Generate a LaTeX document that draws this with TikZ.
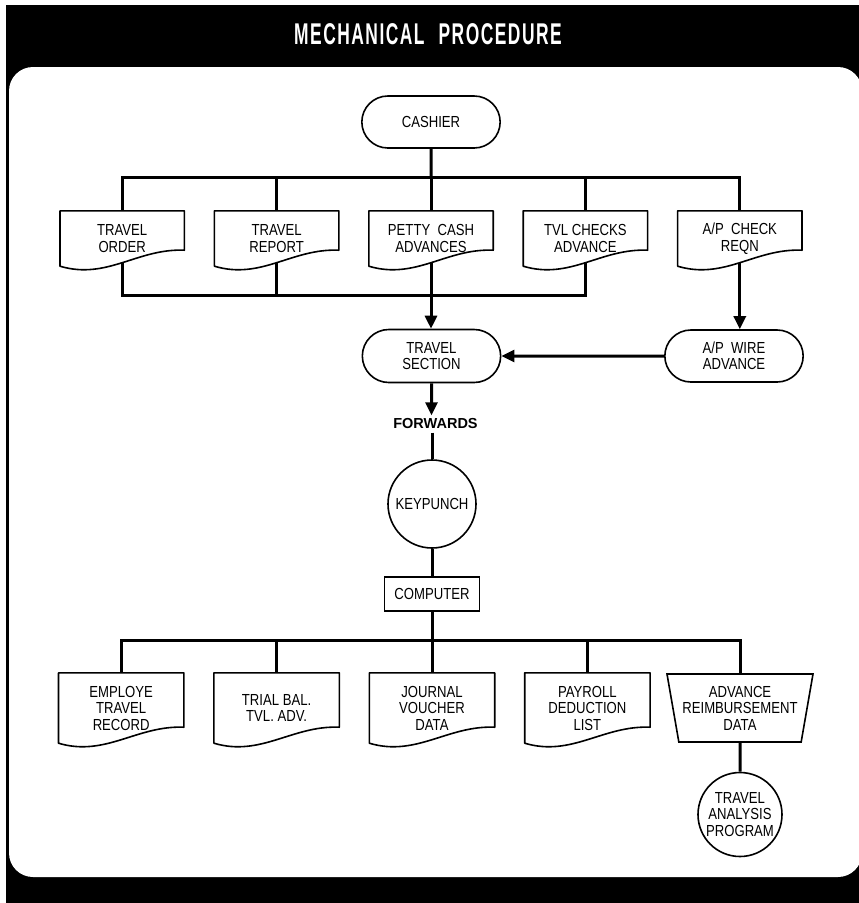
\documentclass[tikz,border=0pt]{standalone}
\usepackage{fontspec}
\setmainfont[FakeStretch=0.82]{Liberation Sans}
\newfontfamily\headfont[FakeStretch=0.58,LetterSpace=5]{Liberation Sans}
\newfontfamily\notefont{Liberation Sans}
\usetikzlibrary{positioning,shapes.geometric,shapes.misc,arrows.meta,calc}

\newcommand{\chartsize}{\fontsize{16}{16.5}\selectfont}
\newcommand{\docoutline}[1]{%
  \draw[docline] (#1.south west) -- (#1.north west) -- (#1.north east)
    -- ($(#1.south east)+(0,-16)$)
    .. controls ($(#1.south east)+(-47,-18)$) and ($(#1.south west)+(47,14)$) .. (#1.south west)
    coordinate[pos=0.5] (#1-b);}

\begin{document}
\begin{tikzpicture}[x=1pt,y=-1pt]
  \tikzset{wire/.style = {line width=3pt}}
  \tikzset{arrow/.style = {wire, -{Triangle[length=13pt,width=12pt]}}}
  \tikzset{docline/.style = {line width=1.6pt, line join=round, line cap=round}}
  \tikzset{terminal/.style = {rounded rectangle, draw, line width=1.6pt, minimum width=145pt,
      minimum height=52pt, align=center, font=\chartsize}}
  \tikzset{docnode/.style = {minimum width=124pt, minimum height=55pt, inner sep=0pt,
      align=center, font=\chartsize}}
  \tikzset{process/.style = {circle, draw, line width=1.6pt, minimum size=88pt, inner sep=0pt,
      align=center, font=\chartsize}}
  \tikzset{machine/.style = {rectangle, draw, line width=1.6pt, minimum width=95pt,
      minimum height=34pt, font=\chartsize}}
  \tikzset{datacard/.style = {trapezium, shape border rotate=180, trapezium stretches body,
      trapezium left angle=75, trapezium right angle=75, draw, line width=1.6pt,
      minimum width=146pt, minimum height=68pt, inner sep=0pt, align=center, font=\chartsize}}
  \tikzset{note/.style = {font=\notefont\bfseries\fontsize{14.5}{16}\selectfont}}

  \useasboundingbox (0,0) rectangle (859,903);
  \clip (0,0) rectangle (859,903);
  \fill[black] (6,5) rectangle (880,910);
  \fill[white, rounded corners=24pt] (9,67) rectangle (862,877);
  \node[text=white, font=\headfont\bfseries\fontsize{30}{30}\selectfont] (head) at (428,34)
    {MECHANICAL\hspace{14pt}PROCEDURE};

  \node[terminal] (cashier) at (431,122) {CASHIER};

  \node[docnode] (pc) at (431,238.5) {PETTY\ \ CASH\\ADVANCES};
  \node[docnode, left=30pt of pc] (tr) {TRAVEL\\REPORT};
  \node[docnode, left=30pt of tr] (to) {TRAVEL\\ORDER};
  \node[docnode, right=30pt of pc] (tc) {TVL CHECKS\\ADVANCE};
  \node[docnode, right=30pt of tc] (ap) {A/P\ \ CHECK\\REQN};

  \node[terminal, minimum height=53pt] (ts) at (431.5,356) {TRAVEL\\SECTION};
  \node[terminal] (apw) at (734,356) {A/P\ \ WIRE\\ADVANCE};
  \node[note, below=32pt of ts, xshift=4pt] (fwd) {FORWARDS};
  \node[process] (kp) at (432,504) {KEYPUNCH};
  \node[machine] (comp) at (432,594) {COMPUTER};

  \node[docnode, minimum width=125pt, minimum height=70pt] (jv) at (432,708) {JOURNAL\\VOUCHER\\DATA};
  \node[docnode, minimum width=125pt, minimum height=70pt, left=30pt of jv] (tb) {TRIAL BAL.\\TVL. ADV.};
  \node[docnode, minimum width=125pt, minimum height=70pt, left=30pt of tb] (et) {EMPLOYE\\TRAVEL\\RECORD};
  \node[docnode, minimum width=125pt, minimum height=70pt, right=30pt of jv] (pd) {PAYROLL\\DEDUCTION\\LIST};
  \node[datacard] (ar) at (740,708) {ADVANCE\\REIMBURSEMENT\\DATA};
  \node[process, minimum size=84pt] (tap) at (740,814.5) {TRAVEL\\ANALYSIS\\PROGRAM};

  \foreach \n in {to,tr,pc,tc,ap,et,tb,jv,pd} {\docoutline{\n}}

  \coordinate (split) at (431,177);
  \draw[wire] (cashier) -- (split);
  \draw[wire] (to.north) |- (split) -| (ap.north);
  \foreach \n in {tr,pc,tc} \draw[wire] (\n.north) -- (\n.north |- split);

  \coordinate (merge) at (431,295);
  \draw[wire] (to-b) |- (tc-b |- merge) -- (tc-b);
  \draw[wire] (tr-b) -- (tr-b |- merge);
  \draw[arrow] (pc-b) -- (pc-b |- ts.north);
  \draw[arrow] (ap-b) -- (ap-b |- apw.north);
  \draw[arrow] (apw) -- (ts);
  \draw[arrow] (ts) -- (ts |- fwd.north);
  \draw[wire] (kp |- fwd.south) -- (kp);
  \draw[wire] (kp) -- (comp);

  \coordinate (fan) at (432,640);
  \draw[wire] (comp) -- (fan);
  \draw[wire] (et.north) |- (fan) -| (ar.north);
  \foreach \n in {tb,jv,pd} \draw[wire] (\n.north) -- (\n.north |- fan);
  \draw[wire] (ar) -- (tap);
\end{tikzpicture}
\end{document}
